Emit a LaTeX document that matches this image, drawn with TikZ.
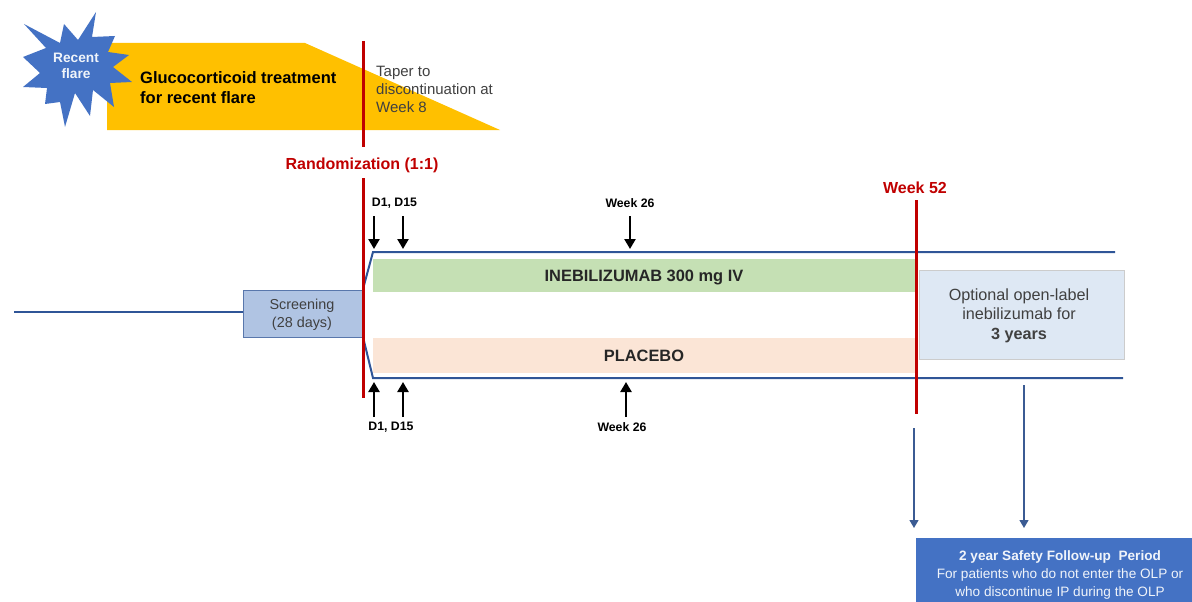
\documentclass[tikz,border=0pt]{standalone}
\usepackage{fontspec}
\setmainfont{Liberation Sans}
\usetikzlibrary{arrows.meta}
\definecolor{cred}{HTML}{C00000}
\definecolor{cblue}{HTML}{2F5597}
\definecolor{cstar}{HTML}{4472C4}
\definecolor{cgold}{HTML}{FFC000}
\definecolor{cgreen}{HTML}{C5E0B4}
\definecolor{cpeach}{HTML}{FBE5D6}
\definecolor{cscreen}{HTML}{B0C4E3}
\definecolor{colp}{HTML}{DEE8F4}
\definecolor{ctext}{HTML}{404040}
\tikzset{
  x=1pt,y=-1pt,
  redbar/.style={draw=cred,line width=3pt},
  track/.style={draw=cblue,line width=2pt},
  dose/.style={draw=black,line width=2.4pt,-{Triangle[length=10pt,width=11pt]}},
  fup/.style={draw=cblue!85!gray,line width=1.3pt,-{Triangle[length=8pt,width=9pt]}},
  txt/.style={inner sep=0pt,align=center,font=\fontsize{14}{18}\selectfont,text=ctext},
  lbl/.style={inner sep=0pt,font=\fontsize{12.3}{14}\selectfont\bfseries,text=black},
  redlbl/.style={inner sep=0pt,font=\fontsize{16}{18}\selectfont\bfseries,text=cred},
  armlbl/.style={inner sep=0pt,font=\fontsize{16.4}{18}\selectfont\bfseries,text=black!85},
  band/.style={minimum height=0pt,inner sep=0pt,anchor=north west}
}
\begin{document}
\begin{tikzpicture}
\useasboundingbox (0,0) rectangle (1192,602);
% glucocorticoid wedge
\fill[cgold] (107,43) -- (305,43) -- (500,130) -- (107,130) -- cycle;
% star
\fill[cstar] (96,12) -- (92,37) -- (115,36) -- (108,52) -- (129,55) -- (113,67) -- (132,82) -- (110,83) -- (114,107) -- (93,90) -- (90,116) -- (75,93) -- (65,127) -- (60,102) -- (45,104) -- (47,88) -- (23,87) -- (40,73) -- (23,57) -- (46,48) -- (24,24) -- (60,43) -- (64,24) -- (78,40) -- cycle;
\node[txt,font=\fontsize{13.7}{16}\selectfont\bfseries,text=white!92!cstar] (flare) at (76,65.5) {Recent\\flare};
\node[inner sep=0pt,align=left,anchor=west,font=\fontsize{16.5}{20}\selectfont\bfseries,text=black] (gluco) at (140,87.5) {Glucocorticoid treatment\\for recent flare};
\node[inner sep=0pt,align=left,anchor=west,font=\fontsize{15}{18}\selectfont,text=ctext] (taper) at (376,89) {Taper to\\discontinuation at\\Week 8};
% treatment bands
\node[band,fill=cgreen,minimum width=542pt,minimum height=33pt] (drug) at (373,259) {};
\node[band,fill=cpeach,minimum width=542pt,minimum height=35pt] (plc) at (373,338) {};
\node[armlbl] (drugt) at (644,278) {INEBILIZUMAB 300 mg IV};
\node[armlbl] (plct) at (644,356) {PLACEBO};
% OLP box
\node[band,fill=colp,draw=black!20,line width=.8pt,minimum width=205pt,minimum height=89pt] (olp) at (919,270) {};
\node[txt,font=\fontsize{16.2}{19.5}\selectfont] (olpt) at (1019,315.5) {Optional open-label\\inebilizumab for\\\textbf{3 years}};
% screening
\coordinate (lead) at (14,312);
\node[band,fill=cscreen,draw=cblue!80,line width=1pt,minimum width=119pt,minimum height=47pt] (scr) at (243,289.5) {};
\node[txt,font=\fontsize{14.4}{18}\selectfont] (scrt) at (302,315) {Screening\\(28 days)};
\draw[track] (lead) -- (scr.west |- lead);
% arms
\coordinate (t0) at (363,289);
\coordinate (t1) at (373,252);
\coordinate (t2) at (1115,252);
\coordinate (b0) at (363,337);
\coordinate (b1) at (373,378);
\coordinate (b2) at (1123,378);
\draw[track] (t0) -- (t1) -- (t2);
\draw[track] (b0) -- (b1) -- (b2);
% red bars
\coordinate (r1a) at (363,41);
\coordinate (r1b) at (363,147);
\coordinate (r2a) at (363,178);
\coordinate (r2b) at (363,398);
\coordinate (r3a) at (916,200);
\coordinate (r3b) at (916,414);
\draw[redbar] (r1a) -- (r1b);
\draw[redbar] (r2a) -- (r2b);
\draw[redbar] (r3a) -- (r3b);
\node[redlbl] (rand) at (362,165.5) {Randomization (1:1)};
\node[redlbl] (wk52) at (915,187.5) {Week 52};
% dosing arrows
\node[lbl] (d1t) at (394.5,203.5) {D1, D15};
\node[lbl] (w26t) at (630,203.5) {Week 26};
\node[lbl] (d1b) at (391,427) {D1, D15};
\node[lbl] (w26b) at (622,427) {Week 26};
\coordinate (a1) at (374,216); \coordinate (a1e) at (374,249);
\coordinate (a2) at (403,216); \coordinate (a2e) at (403,249);
\coordinate (a3) at (630,216); \coordinate (a3e) at (630,249);
\coordinate (b1s) at (374,417); \coordinate (b1e) at (374,382);
\coordinate (b2s) at (403,417); \coordinate (b2e) at (403,382);
\coordinate (b3s) at (626,417); \coordinate (b3e) at (626,382);
\foreach \s/\e in {a1/a1e,a2/a2e,a3/a3e,b1s/b1e,b2s/b2e,b3s/b3e} \draw[dose] (\s) -- (\e);
% follow up
\node[band,fill=cstar,minimum width=276pt,minimum height=65pt] (fu) at (916,537.5) {};
\node[txt,text=white!92!cstar,font=\fontsize{13.6}{18}\selectfont] (fut) at (1060,574.5) {\textbf{2 year Safety Follow-up\ \ Period}\\For patients who do not enter the OLP or\\who discontinue IP during the OLP};
\coordinate (f1) at (914,428); \coordinate (f1e) at (914,528);
\coordinate (f2) at (1024,385); \coordinate (f2e) at (1024,528);
\draw[fup] (f1) -- (f1e);
\draw[fup] (f2) -- (f2e);
\end{tikzpicture}
\end{document}
